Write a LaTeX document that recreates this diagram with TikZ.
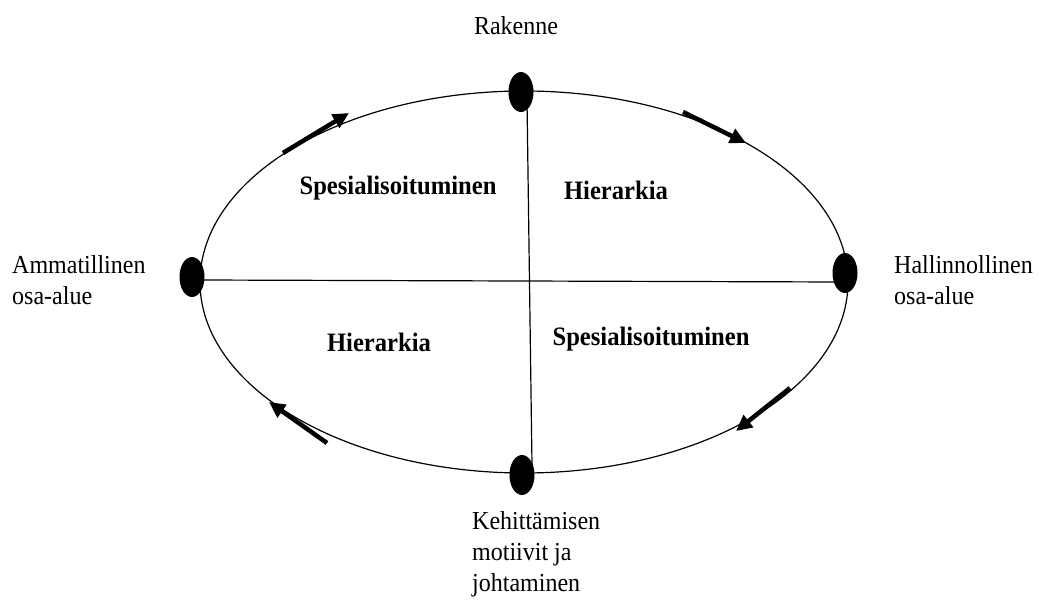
\documentclass[tikz,border=0pt]{standalone}
\usepackage{fontspec}
\setmainfont{Liberation Serif}
\usetikzlibrary{arrows.meta}
\newcommand{\vs}[1]{\scalebox{1}[1.08]{#1}}
\tikzset{
  lbl/.style={inner sep=0pt, font=\fontsize{24}{31}\selectfont, align=left},
  blbl/.style={inner sep=0pt, font=\fontsize{24.6}{30}\selectfont\bfseries},
  dot/.style={fill=black, draw=none},
  flow/.style={line width=4.5pt, -{Triangle[length=16pt,width=15pt]}},
  thin/.style={line width=1.2pt}
}
\begin{document}
\begin{tikzpicture}[x=1pt,y=-1pt]
\useasboundingbox (0,0) rectangle (1039,612);
% ellipse
\draw[thin] (524,282) ellipse [x radius=324, y radius=191];
% cross lines
\coordinate (vt) at (527,100);
\coordinate (vb) at (532,465);
\coordinate (hl) at (200,280);
\coordinate (hr) at (840,282);
\draw[thin] (vt) -- (vb);
\draw[thin] (hl) -- (hr);
% dots
\fill[dot] (521,92) ellipse [x radius=12.5, y radius=20];
\fill[dot] (845,273) ellipse [x radius=12.5, y radius=20];
\fill[dot] (192,277) ellipse [x radius=12.5, y radius=20];
\fill[dot] (522,475) ellipse [x radius=12.5, y radius=20];
% arrows
\coordinate (a1s) at (283,153); \coordinate (a1e) at (349,113);
\coordinate (a2s) at (683,112); \coordinate (a2e) at (746,143);
\coordinate (a3s) at (790,388); \coordinate (a3e) at (736,431);
\coordinate (a4s) at (327,443); \coordinate (a4e) at (269,402);
\draw[flow] (a1s) -- (a1e);
\draw[flow] (a2s) -- (a2e);
\draw[flow] (a3s) -- (a3e);
\draw[flow] (a4s) -- (a4e);
% outer labels
\node[lbl, anchor=base] (rak) at (516,35) {\vs{Rakenne}};
\node[lbl, anchor=north west] (amm) at (12,255) {\vs{Ammatillinen}\\\vs{osa-alue}};
\node[lbl, anchor=north west] (hal) at (894,255) {\vs{Hallinnollinen}\\\vs{osa-alue}};
\node[lbl, anchor=north west] (keh) at (472,511.5) {\vs{Kehittämisen}\\\vs{motiivit ja}\\\vs{johtaminen}};
% inner labels
\node[blbl] (sp1) at (398,188) {\vs{Spesialisoituminen}};
\node[blbl] (hi1) at (616,190) {\vs{Hierarkia}};
\node[blbl] (hi2) at (379,342) {\vs{Hierarkia}};
\node[blbl] (sp2) at (651,339) {\vs{Spesialisoituminen}};
\end{tikzpicture}
\end{document}
